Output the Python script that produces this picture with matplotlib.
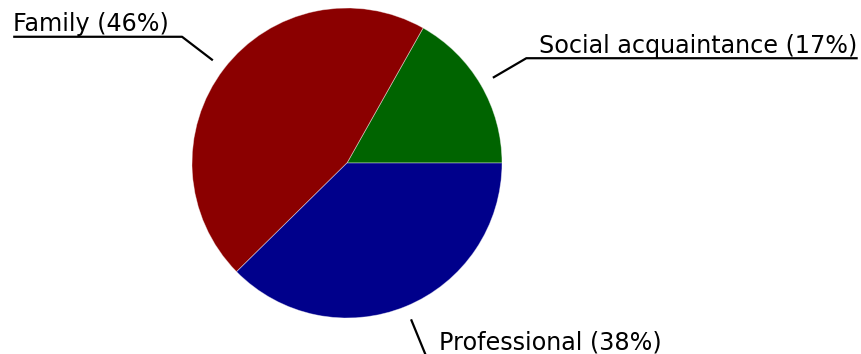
import matplotlib
matplotlib.use("Agg")
import matplotlib.pyplot as plt
import numpy as np

# Share of contacts by relationship type (percent)
categories = ["Social acquaintance", "Family", "Professional"]
shares = [17, 46, 38]
colors = ["#006400", "#8B0000", "#00008B"]

W, H = 862, 354
fig = plt.figure(figsize=(W / 100, H / 100), dpi=100)
ax = fig.add_axes([0, 0, 1, 1])
ax.set_xlim(0, W)
ax.set_ylim(0, H)
ax.set_aspect("equal")
ax.axis("off")

cx, cy, R = 347, H - 163, 155
wedges, _ = ax.pie(shares, colors=colors, startangle=0, counterclock=True,
                   center=(cx, cy), radius=R,
                   wedgeprops=dict(edgecolor=(1, 1, 1, 0.45), linewidth=0.6))
ax.set_xlim(0, W)
ax.set_ylim(0, H)

fig.canvas.draw()
renderer = fig.canvas.get_renderer()

pad = 13
for w, name, val in zip(wedges, categories, shares):
    mid = np.deg2rad((w.theta1 + w.theta2) / 2)
    x0, y0 = cx + 1.09 * R * np.cos(mid), cy + 1.09 * R * np.sin(mid)
    x1, y1 = cx + 1.34 * R * np.cos(mid), cy + 1.34 * R * np.sin(mid)
    right = np.cos(mid) >= 0
    label = f"{name} ({val}%)"
    t = ax.text(x1 + (pad if right else -pad), y1 + 0.5, label,
                ha="left" if right else "right", va="bottom",
                fontsize=17.2, color="black")
    bb = t.get_window_extent(renderer)
    tw = bb.width
    x2 = x1 + (tw + pad) if right else x1 - (tw + pad)
    ax.plot([x0, x1, x2], [y0, y1, y1], color="black", lw=1.6,
            solid_capstyle="butt", clip_on=False)

fig.savefig("out.png", dpi=100)
